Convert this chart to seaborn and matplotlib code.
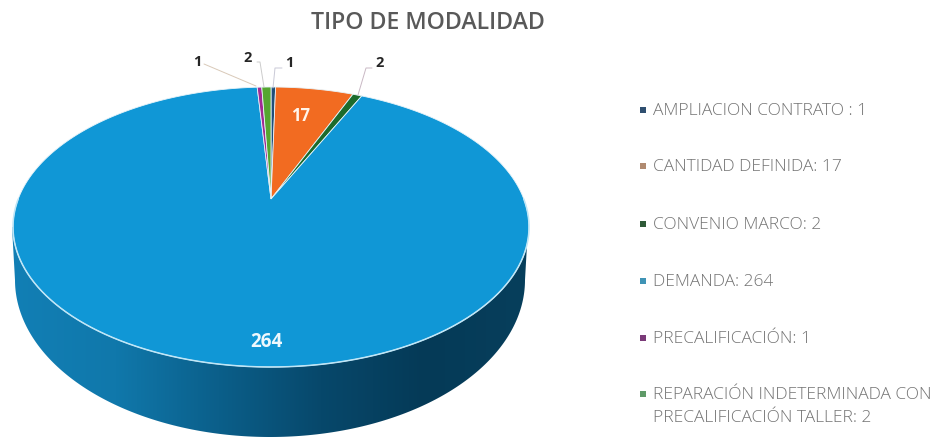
import numpy as np
import matplotlib
matplotlib.use("Agg")
import matplotlib.pyplot as plt
from matplotlib.patches import Polygon
from matplotlib.colors import LinearSegmentedColormap
import seaborn as sns

categories = ["AMPLIACION CONTRATO : 1", "CANTIDAD DEFINIDA: 17", "CONVENIO MARCO: 2",
              "DEMANDA: 264", "PRECALIFICACIÓN: 1",
              "REPARACIÓN INDETERMINADA CON\nPRECALIFICACIÓN TALLER: 2"]
values = [1, 17, 2, 264, 1, 2]
slice_colors = ["#1f4e79", "#f26b21", "#1c6b2c", "#1097d6", "#a12a94", "#55a630"]
legend_colors = ["#2f4f70", "#b08a70", "#2f5a38", "#3f93b5", "#7a3a78", "#5f9a68"]
title = "TIPO DE MODALIDAD"

sns.set_theme(style="white")
plt.rcParams["font.family"] = ["Open Sans", "DejaVu Sans"]
palette = sns.color_palette(slice_colors)

fig = plt.figure(figsize=(9.36, 4.38), dpi=100)
ax = fig.add_axes([0, 0, 1, 1])
ax.set_xlim(0, 936)
ax.set_ylim(438, 0)
ax.axis("off")

# perspective projection of a unit disc onto the tilted pie top
CX, CY, K, A, B = 271, 199, 0.2, 134.4, 252.8


def project(theta):
    u, v = np.sin(theta), np.cos(theta)
    w = 1 + K * v
    return CX + B * u / w, CY - A * v / w


# side wall: gradient clipped to the silhouette of the lower ellipse
t = np.linspace(0, np.pi, 200)
bx = 270 - 255 * np.cos(t)
by = 280 + 157 * np.sin(t)
outline = np.column_stack([np.r_[12, bx, 528], np.r_[227, by, 227]])
clip = Polygon(outline, closed=True, transform=ax.transData, fc="none", ec="none")
ax.add_patch(clip)
cmap = LinearSegmentedColormap.from_list(
    "side", ["#127fb5", "#1078ab", "#0b5f8a", "#07486b", "#053a57", "#073f5c"])
img = ax.imshow(np.linspace(0, 1, 256)[None, :], cmap=cmap, aspect="auto",
                extent=(12, 528, 438, 227), zorder=1)
img.set_clip_path(clip)
ax.set_xlim(0, 936)
ax.set_ylim(438, 0)

# top of the pie, from the values, clockwise from twelve o'clock
edges = np.r_[0, np.cumsum(values)] / np.sum(values) * 2 * np.pi
for i, col in enumerate(palette):
    th = np.linspace(edges[i], edges[i + 1], max(4, int(values[i] * 3)))
    x, y = project(th)
    ax.fill(np.r_[CX, x], np.r_[CY, y], facecolor=col, edgecolor="#e8f4fa",
            linewidth=0.6, zorder=2)

# light rim along the front edge
th = np.linspace(np.pi * 0.5, np.pi * 1.5, 200)
ax.plot(*project(th), color="#bfe6f7", lw=1.1, zorder=3)

# leader lines and value labels
ax.plot([204, 256], [64, 86], color="#d9c9b8", lw=0.7, zorder=3)
ax.plot([257, 260, 264], [62, 62, 87], color="#cccccc", lw=0.7, zorder=3)
ax.plot([282, 275, 273], [68, 68, 88], color="#c9c9d6", lw=0.7, zorder=3)
ax.plot([372, 366, 358], [68, 68, 95], color="#c9b8c4", lw=0.7, zorder=3)
for (lx, ly), val in zip([(197, 62), (248, 58), (289, 63), (380, 63)],
                         [values[4], values[5], values[0], values[2]]):
    ax.text(lx, ly, str(val), ha="center", va="center", fontsize=10.5,
            fontweight="bold", color="#262626", zorder=4)
ax.text(301, 116, str(values[1]), ha="center", va="center", fontsize=12,
        fontweight="bold", color="#fff4ea", zorder=4)
ax.text(266, 342, str(values[3]), ha="center", va="center", fontsize=13.5,
        fontweight="bold", color="#eef8fd", zorder=4)

ax.text(428, 23, title, ha="center", va="center", fontsize=16.7,
        fontweight="semibold", color="#595959")

# legend rows
for cat, col, ly in zip(categories, legend_colors, [110, 166, 224, 281, 338, 394]):
    ax.scatter([643], [ly], marker="s", s=16, color=col, linewidths=0, zorder=4)
    ax.text(653, ly - 7, cat, ha="left", va="top", fontsize=12.55,
            color="#737373", linespacing=1.62, fontweight="light", zorder=4)
ax.set_xlim(0, 936)
ax.set_ylim(438, 0)

fig.savefig("out.png", dpi=100, facecolor="white")
